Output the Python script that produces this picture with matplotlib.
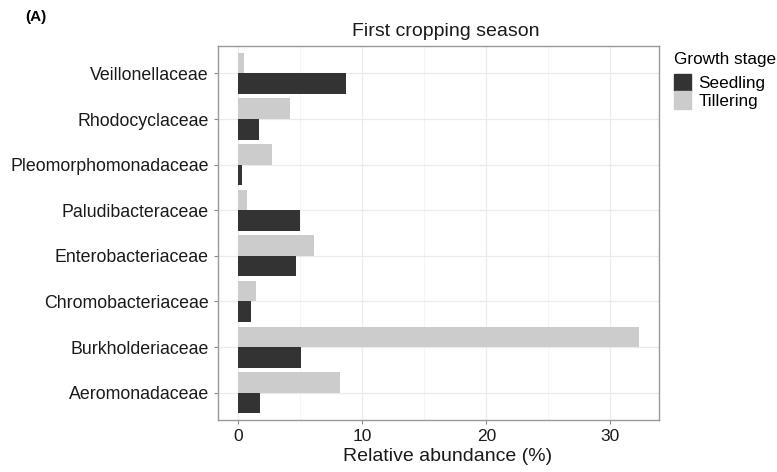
import matplotlib as mpl
mpl.use('Agg')
import matplotlib.pyplot as plt
import matplotlib.patches as mpatches
import numpy as np

plt.rcParams['font.family'] = ['Liberation Sans', 'DejaVu Sans']

families = ["Aeromonadaceae", "Burkholderiaceae", "Chromobacteriaceae",
            "Enterobacteriaceae", "Paludibacteraceae", "Pleomorphomonadaceae",
            "Rhodocyclaceae", "Veillonellaceae"]
seedling = [1.8, 5.05, 1.05, 4.65, 5.0, 0.3, 1.7, 8.7]
tillering = [8.25, 32.3, 1.45, 6.1, 0.7, 2.7, 4.2, 0.45]

dark = '#333333'
light = '#cccccc'

fig = plt.figure(figsize=(7.77, 4.72), dpi=100)
ax = fig.add_axes([0.2806, 0.110, 0.5675, 0.7925])

y = np.arange(len(families))
h = 0.45
ax.barh(y - h / 2, seedling, height=h, color=dark, zorder=3)
ax.barh(y + h / 2, tillering, height=h, color=light, zorder=3)

ax.set_xlim(-1.615, 33.915)
ax.set_ylim(-0.6, len(families) - 0.4)
ax.set_yticks(y)
ax.set_yticklabels(families, fontsize=12.8, color='#1a1a1a')
ax.set_xticks([0, 10, 20, 30])
ax.set_xticks([5, 15, 25], minor=True)
ax.tick_params(axis='x', labelsize=12.5, labelcolor='#1a1a1a')
ax.tick_params(which='major', length=3, color='#888888', width=0.8)
ax.tick_params(which='minor', length=0)
ax.grid(which='major', color='#ebebeb', linewidth=0.9, zorder=0)
ax.grid(which='minor', axis='x', color='#f2f2f2', linewidth=0.6, zorder=0)
ax.set_axisbelow(True)
for s in ax.spines.values():
    s.set_color('#999999')
    s.set_linewidth(1.0)

ax.set_xlabel("Relative abundance (%)", fontsize=14, color='#1a1a1a', labelpad=3)
ax.xaxis.set_label_coords(0.52, -0.075)
ax.set_title("First cropping season", fontsize=14, color='#1a1a1a', pad=7, x=0.517)
fig.text(0.032, 0.963, "(A)", fontsize=11, fontweight='bold', va='center')

handles = [mpatches.Patch(color=dark, label="Seedling"),
           mpatches.Patch(color=light, label="Tillering")]
leg = ax.legend(handles=handles, title="Growth stage", loc='upper left',
                bbox_to_anchor=(1.035, 0.985), frameon=False, fontsize=12.3,
                title_fontsize=12.3, handlelength=0.95, handleheight=1.2,
                handletextpad=0.45, labelspacing=0.0, borderaxespad=0,
                borderpad=0)
leg._legend_box.align = 'left'
leg._legend_box.sep = 5

fig.savefig('out.png', dpi=100)
